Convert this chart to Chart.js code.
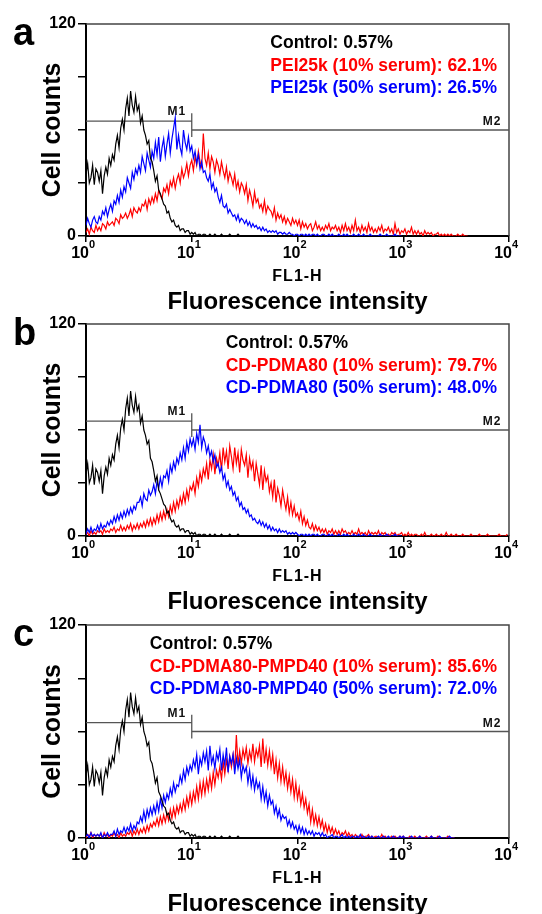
<!DOCTYPE html>
<html>
<head>
<meta charset="utf-8">
<script src="https://cdn.jsdelivr.net/npm/chart.js@4.4.1/dist/chart.umd.min.js"></script>
<style>
  body { margin: 0; background: #fff; width: 542px; height: 914px; position: relative; overflow: hidden; }
  canvas { position: absolute; left: 0; }
</style>
</head>
<body>
<canvas id="panelA" width="542" height="320" style="top:0px"></canvas>
<canvas id="panelB" width="542" height="320" style="top:300px"></canvas>
<canvas id="panelC" width="542" height="313" style="top:601px"></canvas>
<script>
// FL1-H channels: 1024 channels over 4 log decades, one stored count every 4 channels
const pointStep = 4;
const decades = [0, 1, 2, 3, 4];
const channelsPerDecade = 256;
const yLabelValues = [0, 120];

// marker gates (channel bounds) and the count level they are drawn at
const gateNames = ['M1', 'M2'];
const gateBounds = [0, 256, 1024];
const gateLevels = [65, 60];

// Control (same untreated cells in every panel)
const control = [
  35, 41, 30, 33, 40, 29, 38, 36,
  31, 37, 24, 34, 39, 35, 44, 40,
  46, 43, 52, 57, 50, 61, 66, 60,
  72, 78, 68, 82, 74, 70, 79, 71,
  74, 64, 68, 60, 57, 52, 54, 44,
  42, 37, 31, 34, 26, 24, 21, 18,
  17, 13, 14, 10, 8, 9, 6, 5,
  6, 3, 4, 4, 2, 3, 3, 1,
  2, 1, 2, 0, 1, 1, 0, 1,
  1, 0, 0, 1, 0, 0, 1, 0,
  0, 0, 1, 0, 0, 0, 0, 1,
  0, 0, 0, 0, 1, 0, 0, 0
];

// a: PEI25k
const pei10 = [
  2, 4, 1, 5, 3, 2, 6, 3,
  5, 3, 7, 6, 4, 8, 6, 7,
  8, 6, 10, 9, 7, 12, 10, 11,
  13, 10, 12, 15, 11, 16, 14, 13,
  16, 14, 18, 17, 20, 15, 21, 18,
  22, 19, 24, 20, 26, 23, 21, 27,
  25, 29, 24, 31, 28, 33, 27, 32,
  35, 30, 38, 33, 36, 41, 34, 40,
  43, 37, 45, 40, 48, 42, 39, 58,
  44, 40, 47, 38, 45, 42, 36, 43,
  40, 35, 42, 37, 33, 39, 31, 36,
  33, 29, 35, 27, 31, 25, 30, 28,
  24, 29, 20, 26, 22, 17, 25, 19,
  21, 16, 18, 14, 20, 13, 17, 15,
  14, 11, 16, 9, 13, 10, 12, 8,
  11, 7, 10, 8, 6, 10, 7, 9,
  6, 9, 4, 8, 5, 7, 4, 6,
  7, 3, 5, 8, 4, 6, 3, 5,
  3, 6, 4, 7, 3, 5, 4, 6,
  3, 5, 2, 6, 3, 7, 3, 5,
  2, 6, 3, 9, 3, 5, 2, 6,
  3, 5, 2, 7, 3, 5, 2, 4,
  2, 5, 3, 6, 2, 4, 3, 5,
  2, 4, 1, 7, 2, 4, 1, 3,
  2, 4, 1, 3, 2, 5, 1, 3,
  1, 3, 1, 2, 0, 3, 1, 2,
  1, 2, 0, 1, 1, 2, 0, 1,
  0, 1, 0, 1, 0, 1, 0, 0,
  0, 1, 0, 0, 1, 0, 0, 0
];
const pei50 = [
  6, 10, 7, 5, 9, 11, 8, 7,
  11, 9, 14, 12, 16, 11, 15, 18,
  14, 20, 18, 23, 19, 26, 22, 28,
  25, 33, 30, 27, 36, 32, 38, 35,
  40, 36, 45, 41, 37, 47, 43, 39,
  48, 44, 53, 46, 56, 42, 50, 55,
  45, 52, 58, 47, 55, 61, 67, 49,
  57, 50, 46, 60, 53, 49, 56, 48,
  51, 44, 48, 41, 46, 38, 42, 36,
  37, 33, 31, 35, 27, 30, 25, 27,
  22, 19, 23, 17, 16, 18, 13, 15,
  13, 11, 12, 9, 12, 8, 10, 9,
  7, 9, 6, 8, 5, 7, 5, 6,
  4, 5, 3, 5, 3, 4, 2, 3,
  2, 3, 2, 3, 1, 2, 2, 1,
  2, 1, 1, 2, 1, 1, 0, 1,
  1, 0, 1, 1, 0, 1, 0, 1,
  0, 1, 1, 0, 1, 0, 0, 1,
  1, 0, 0, 1, 0, 1, 0, 0,
  0, 1, 0, 0, 1, 0, 1, 0,
  0, 0, 1, 0, 0, 1, 0, 0,
  1, 0, 0, 0, 1, 0, 0, 0,
  0, 0, 1, 0, 0, 0, 1, 0,
  0, 0, 0, 1, 0, 0, 0, 0
];

// b: CD-PDMA80
const pdma10 = [
  1, 2, 0, 3, 1, 2, 1, 3,
  2, 3, 1, 4, 2, 3, 2, 4,
  3, 5, 2, 4, 3, 6, 3, 5,
  3, 6, 4, 7, 3, 6, 4, 7,
  4, 7, 5, 8, 5, 9, 6, 10,
  6, 10, 7, 12, 8, 13, 9, 14,
  10, 15, 11, 17, 13, 19, 14, 20,
  16, 22, 18, 24, 19, 26, 21, 28,
  26, 30, 24, 33, 28, 36, 31, 38,
  34, 41, 32, 43, 38, 46, 35, 44,
  40, 47, 37, 50, 42, 48, 38, 51,
  45, 38, 50, 41, 47, 36, 49, 43,
  40, 46, 33, 44, 38, 42, 31, 41,
  35, 29, 40, 26, 37, 31, 34, 25,
  30, 22, 32, 19, 27, 23, 17, 26,
  20, 15, 22, 13, 19, 12, 17, 11,
  13, 9, 14, 7, 11, 6, 9, 5,
  4, 7, 3, 6, 3, 5, 2, 4,
  2, 4, 1, 3, 2, 4, 1, 3,
  1, 3, 1, 4, 2, 3, 1, 2,
  1, 3, 1, 2, 1, 4, 1, 2,
  1, 2, 0, 3, 1, 2, 1, 2,
  1, 3, 0, 2, 1, 2, 0, 1,
  0, 2, 1, 2, 0, 1, 1, 2,
  0, 1, 0, 2, 0, 1, 0, 1,
  1, 0, 0, 1, 0, 2, 0, 0,
  0, 1, 0, 0, 1, 0, 0, 1,
  0, 0, 2, 0, 0, 1, 0, 0,
  1, 0, 0, 0, 1, 0, 0, 0,
  0, 1, 0, 0, 0, 0, 1, 0,
  0, 0, 0, 1, 0, 0, 0, 0,
  0, 0, 1, 0, 0, 0, 0, 1
];
const pdma50 = [
  1, 4, 2, 5, 2, 4, 3, 6,
  3, 7, 4, 6, 5, 8, 6, 9,
  7, 11, 8, 12, 9, 13, 10, 14,
  11, 15, 12, 16, 13, 17, 15, 19,
  19, 22, 17, 24, 21, 20, 26, 23,
  25, 29, 24, 31, 27, 33, 28, 34,
  33, 37, 31, 40, 36, 42, 38, 44,
  41, 47, 43, 50, 44, 53, 48, 55,
  51, 55, 49, 58, 53, 63, 50, 56,
  53, 47, 51, 45, 48, 42, 46, 39,
  41, 36, 39, 32, 35, 28, 31, 26,
  28, 23, 25, 20, 22, 17, 19, 15,
  16, 13, 15, 11, 12, 9, 10, 8,
  7, 9, 6, 8, 5, 7, 4, 6,
  3, 5, 3, 4, 2, 4, 2, 3,
  2, 3, 1, 2, 1, 2, 1, 2,
  1, 0, 1, 1, 0, 1, 0, 1,
  0, 1, 1, 0, 1, 0, 0, 1,
  1, 0, 0, 1, 0, 1, 0, 0,
  0, 1, 0, 0, 1, 0, 1, 0,
  0, 0, 1, 0, 0, 1, 0, 0,
  1, 0, 0, 0, 1, 0, 0, 0,
  0, 0, 1, 0, 0, 0, 1, 0,
  0, 0, 0, 1, 0, 0, 0, 0
];

// c: CD-PDMA80-PMPD40
const pmpd10 = [
  0, 2, 1, 3, 0, 2, 1, 2,
  1, 2, 0, 3, 1, 2, 0, 2,
  1, 3, 1, 2, 0, 3, 1, 2,
  1, 3, 2, 4, 1, 4, 2, 5,
  2, 5, 3, 6, 3, 7, 4, 8,
  6, 9, 7, 11, 7, 12, 8, 13,
  9, 14, 10, 16, 11, 17, 12, 18,
  14, 19, 15, 21, 16, 23, 18, 25,
  19, 26, 21, 29, 22, 31, 24, 32,
  25, 33, 27, 35, 28, 37, 30, 38,
  34, 40, 33, 43, 36, 44, 38, 46,
  40, 47, 39, 58, 41, 49, 42, 50,
  45, 51, 42, 49, 44, 53, 43, 50,
  46, 52, 40, 56, 42, 50, 41, 49,
  40, 47, 36, 44, 34, 42, 32, 40,
  31, 37, 28, 35, 26, 33, 23, 31,
  22, 28, 19, 25, 17, 22, 14, 19,
  9, 16, 8, 13, 7, 12, 6, 10,
  4, 8, 3, 7, 3, 6, 2, 5,
  2, 4, 1, 3, 2, 4, 1, 3,
  1, 2, 0, 2, 1, 1, 0, 2,
  0, 1, 1, 2, 0, 1, 0, 1,
  1, 0, 0, 2, 0, 1, 0, 0,
  0, 1, 0, 1, 0, 0, 1, 0,
  1, 0, 0, 0, 1, 0, 0, 1,
  0, 0, 1, 0, 0, 0, 1, 0,
  0, 1, 0, 0, 0, 1, 0, 0,
  0, 0, 0, 1, 0, 0, 0, 0
];
const pmpd50 = [
  1, 2, 0, 3, 1, 2, 1, 2,
  1, 3, 0, 2, 1, 3, 1, 2,
  2, 4, 1, 5, 2, 4, 3, 6,
  3, 6, 4, 8, 4, 7, 5, 9,
  8, 12, 9, 15, 10, 16, 12, 17,
  13, 18, 14, 20, 15, 22, 17, 24,
  20, 25, 22, 28, 24, 31, 26, 30,
  29, 35, 31, 38, 33, 40, 36, 41,
  38, 44, 40, 47, 36, 45, 41, 48,
  43, 49, 38, 52, 42, 46, 39, 48,
  44, 50, 38, 47, 41, 51, 37, 46,
  42, 47, 36, 45, 39, 44, 34, 41,
  37, 40, 31, 38, 29, 35, 27, 33,
  28, 31, 22, 29, 21, 26, 18, 24,
  19, 21, 14, 18, 12, 16, 10, 13,
  11, 12, 7, 10, 6, 9, 5, 7,
  3, 7, 3, 6, 2, 5, 2, 4,
  2, 4, 1, 3, 2, 3, 1, 3,
  1, 2, 0, 1, 1, 2, 0, 1,
  1, 0, 1, 2, 0, 1, 0, 1,
  0, 1, 1, 0, 1, 0, 2, 0,
  1, 0, 0, 1, 0, 1, 0, 0,
  0, 1, 0, 0, 1, 0, 0, 1,
  0, 0, 1, 0, 0, 0, 1, 0,
  1, 0, 0, 0, 0, 1, 0, 0,
  0, 0, 1, 0, 0, 0, 0, 0,
  0, 1, 0, 0, 0, 0, 1, 0,
  0, 0, 0, 0, 1, 0, 0, 0
];

const legendA = ['Control: 0.57%', 'PEI25k (10% serum): 62.1%', 'PEI25k (50% serum): 26.5%'];
const legendB = ['Control: 0.57%', 'CD-PDMA80 (10% serum): 79.7%', 'CD-PDMA80 (50% serum): 48.0%'];
const legendC = ['Control: 0.57%', 'CD-PDMA80-PMPD40 (10% serum): 85.6%', 'CD-PDMA80-PMPD40 (50% serum): 72.0%'];
const legendColors = ['#000000', '#ff0000', '#0000ff'];

const FONT = 'Arial, "Liberation Sans", sans-serif';

function toPoints(counts) {
  return counts.map((v, i) => ({ x: i * pointStep, y: v }));
}

// box, gates, and all the text that Chart.js can't lay out the same way
const panelDecor = {
  id: 'panelDecor',
  beforeDatasetsDraw(chart, args, opts) {
    const { ctx, chartArea: a, scales: { x, y } } = chart;
    ctx.save();
    ctx.strokeStyle = '#444';
    ctx.lineWidth = 1.5;
    ctx.beginPath();
    ctx.moveTo(a.left, a.top);
    ctx.lineTo(a.right, a.top);
    ctx.lineTo(a.right, a.bottom);
    ctx.stroke();

    const x0 = x.getPixelForValue(gateBounds[0]);
    const x1 = x.getPixelForValue(gateBounds[1]);
    const x2 = x.getPixelForValue(gateBounds[2]);
    const y1 = y.getPixelForValue(gateLevels[0]);
    const y2 = y.getPixelForValue(gateLevels[1]);
    ctx.strokeStyle = '#555';
    ctx.lineWidth = 1.3;
    ctx.beginPath();
    ctx.moveTo(x0, y1); ctx.lineTo(x1, y1);
    ctx.moveTo(x1, y1 - 8); ctx.lineTo(x1, y2 + 7);
    ctx.moveTo(x1, y2); ctx.lineTo(x2, y2);
    ctx.stroke();

    ctx.fillStyle = '#111';
    ctx.font = 'bold 12px ' + FONT;
    ctx.letterSpacing = '1px';
    ctx.textAlign = 'center';
    ctx.fillText(gateNames[0], x.getPixelForValue(220), y1 - 6);
    ctx.fillText(gateNames[1], x.getPixelForValue(983), y2 - 5);
    ctx.restore();
  },
  afterDraw(chart, args, opts) {
    const { ctx, chartArea: a, scales: { x } } = chart;
    ctx.save();
    ctx.fillStyle = '#000';

    // panel letter
    ctx.font = 'bold 38px ' + FONT;
    ctx.textAlign = 'left';
    ctx.fillText(opts.letter, 13, a.top + 21);

    // x tick labels 10^n
    decades.forEach(n => {
      const px = x.getPixelForValue(n * channelsPerDecade);
      ctx.font = 'bold 16px ' + FONT;
      ctx.textAlign = 'right';
      ctx.fillText('10', px + 3, a.bottom + 22);
      ctx.font = 'bold 11px ' + FONT;
      ctx.textAlign = 'left';
      ctx.fillText(String(n), px + 3, a.bottom + 12);
    });

    // axis titles
    const cx = (a.left + a.right) / 2;
    ctx.textAlign = 'center';
    ctx.font = 'bold 16px ' + FONT;
    ctx.letterSpacing = '1px';
    ctx.fillText('FL1-H', cx, a.bottom + 45);
    ctx.letterSpacing = '0px';
    ctx.font = 'bold 24px ' + FONT;
    ctx.fillText('Fluorescence intensity', cx, a.bottom + 73);

    ctx.save();
    ctx.translate(60, (a.top + a.bottom) / 2);
    ctx.rotate(-Math.PI / 2);
    ctx.font = 'bold 25px ' + FONT;
    ctx.fillText('Cell counts', 0, 0);
    ctx.restore();

    // percentage legend
    ctx.font = 'bold 17.5px ' + FONT;
    ctx.textAlign = 'left';
    const w = Math.max(...opts.legend.map(t => ctx.measureText(t).width));
    const lx = a.right - 12 - w;
    opts.legend.forEach((t, i) => {
      ctx.fillStyle = legendColors[i];
      ctx.fillText(t, lx, a.top + 24 + i * 22.5);
    });
    ctx.restore();
  }
};

function makePanel(id, letter, legend, red, blue, plotBottom) {
  const canvas = document.getElementById(id);
  return new Chart(canvas.getContext('2d'), {
    type: 'line',
    data: {
      datasets: [
        { data: toPoints(control), borderColor: '#000000' },
        { data: toPoints(blue), borderColor: '#0000ff' },
        { data: toPoints(red), borderColor: '#ff0000' }
      ]
    },
    options: {
      responsive: false,
      animation: false,
      devicePixelRatio: 1,
      layout: { padding: { top: 24, right: 33, left: 0, bottom: 0 } },
      elements: {
        point: { radius: 0 },
        line: { borderWidth: 1.2, tension: 0 }
      },
      plugins: {
        legend: { display: false },
        tooltip: { enabled: false },
        panelDecor: { letter: letter, legend: legend }
      },
      scales: {
        x: {
          type: 'linear',
          min: 0,
          max: decades[decades.length - 1] * channelsPerDecade,
          ticks: { stepSize: channelsPerDecade, callback: () => '' },
          grid: { drawOnChartArea: false, tickLength: 6, color: '#000', lineWidth: 1.5 },
          border: { color: '#000', width: 2 },
          afterFit: s => { s.height = s.chart.height - plotBottom; }
        },
        y: {
          min: 0,
          max: 120,
          ticks: {
            stepSize: 30,
            padding: 2,
            color: '#000',
            font: { family: FONT, size: 16, weight: 'bold' },
            callback: v => yLabelValues.includes(v) ? String(v) : ''
          },
          grid: { drawOnChartArea: false, tickLength: 8, color: '#000', lineWidth: 1.5 },
          border: { color: '#000', width: 2 },
          afterFit: s => { s.width = 86; }
        }
      }
    },
    plugins: [panelDecor]
  });
}

makePanel('panelA', 'a', legendA, pei10, pei50, 236);
makePanel('panelB', 'b', legendB, pdma10, pdma50, 236);
makePanel('panelC', 'c', legendC, pmpd10, pmpd50, 237);
</script>
</body>
</html>
